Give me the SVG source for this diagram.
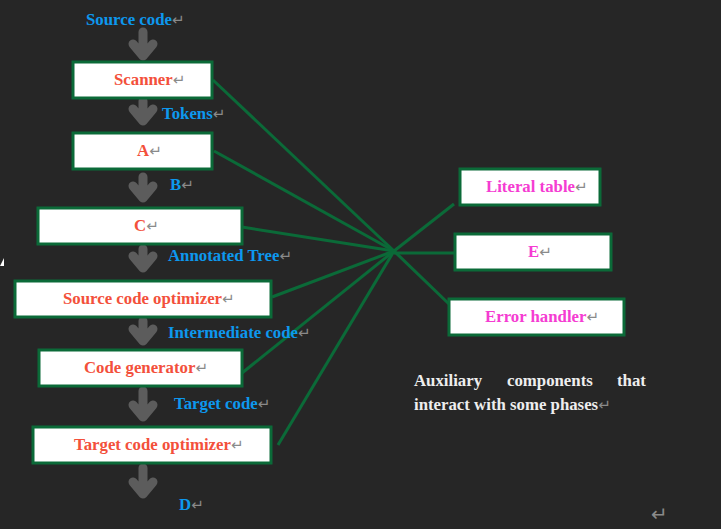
<svg xmlns="http://www.w3.org/2000/svg" width="721" height="529" viewBox="0 0 721 529">
<defs>
<style>
.box{fill:#ffffff;stroke:#0b6a38;stroke-width:3}
.t{font-family:"Liberation Serif","Times New Roman",serif;font-weight:bold;font-size:16.8px}
.red{fill:#f3503b}
.blue{fill:#0d98ee}
.mag{fill:#f53cd2}
.wht{fill:#eeeeee}
.pm{fill:#8a8a8a;font-weight:normal;font-family:"DejaVu Sans",sans-serif;font-size:15px}
.link{stroke:#0b6a38;stroke-width:3;fill:none}
.arr{stroke:#5c5c5c;stroke-width:9;fill:none;stroke-linecap:round;stroke-linejoin:round}
</style>
</defs>
<rect width="721" height="529" fill="#262626"/>
<polygon points="0,266 4,266 4,258" fill="#ffffff"/>

<g id="flow-arrows">
<path class="arr" d="M143,32 V56 M133,44 L143,56 L153,44"/>
<path class="arr" d="M143,101 V121 M133,109 L143,121 L153,109"/>
<path class="arr" d="M143,177 V198 M133,186 L143,198 L153,186"/>
<path class="arr" d="M143,249 V268 M133,256 L143,268 L153,256"/>
<path class="arr" d="M143,321 V341 M133,329 L143,341 L153,329"/>
<path class="arr" d="M143,391 V417 M133,405 L143,417 L153,405"/>
<path class="arr" d="M143,468 V494 M133,482 L143,494 L153,482"/>
</g>

<g id="connectors">
<line class="link" x1="213" y1="80" x2="394" y2="251"/>
<line class="link" x1="214" y1="151" x2="394" y2="251"/>
<line class="link" x1="242" y1="227" x2="394" y2="251"/>
<line class="link" x1="272" y1="297" x2="394" y2="251"/>
<line class="link" x1="242" y1="373" x2="394" y2="251"/>
<line class="link" x1="278" y1="445" x2="394" y2="251"/>
<line class="link" x1="394" y1="251" x2="454" y2="204"/>
<line class="link" x1="394" y1="253" x2="454" y2="253"/>
<line class="link" x1="394" y1="251" x2="449" y2="304"/>
</g>

<g id="label-source-code"><text class="t blue" x="86" y="25">Source code<tspan class="pm">↵</tspan></text></g>

<g id="node-scanner">
<rect class="box" x="73" y="62" width="139" height="36"/>
<text class="t red" x="114" y="85">Scanner<tspan class="pm">↵</tspan></text>
</g>
<g id="label-tokens"><text class="t blue" x="162" y="119">Tokens<tspan class="pm">↵</tspan></text></g>

<g id="node-a">
<rect class="box" x="73" y="133" width="139" height="36"/>
<text class="t red" x="137" y="156">A<tspan class="pm">↵</tspan></text>
</g>
<g id="label-b"><text class="t blue" x="170" y="190">B<tspan class="pm">↵</tspan></text></g>

<g id="node-c">
<rect class="box" x="38" y="208" width="204" height="36"/>
<text class="t red" x="134" y="231">C<tspan class="pm">↵</tspan></text>
</g>
<g id="label-annotated-tree"><text class="t blue" x="168" y="261">Annotated Tree<tspan class="pm">↵</tspan></text></g>

<g id="node-source-code-optimizer">
<rect class="box" x="15" y="281" width="256" height="36"/>
<text class="t red" x="63" y="304">Source code optimizer<tspan class="pm">↵</tspan></text>
</g>
<g id="label-intermediate-code"><text class="t blue" x="168" y="338">Intermediate code<tspan class="pm">↵</tspan></text></g>

<g id="node-code-generator">
<rect class="box" x="39" y="350" width="203" height="36"/>
<text class="t red" x="84" y="373">Code generator<tspan class="pm">↵</tspan></text>
</g>
<g id="label-target-code"><text class="t blue" x="174" y="409">Target code<tspan class="pm">↵</tspan></text></g>

<g id="node-target-code-optimizer">
<rect class="box" x="33" y="427" width="238" height="36"/>
<text class="t red" x="74" y="450">Target code optimizer<tspan class="pm">↵</tspan></text>
</g>
<g id="label-d"><text class="t blue" x="179" y="510">D<tspan class="pm">↵</tspan></text></g>

<g id="node-literal-table">
<rect class="box" x="460" y="169" width="140" height="36"/>
<text class="t mag" x="486" y="192">Literal table<tspan class="pm">↵</tspan></text>
</g>
<g id="node-e">
<rect class="box" x="455" y="234" width="156" height="36"/>
<text class="t mag" x="528" y="257">E<tspan class="pm">↵</tspan></text>
</g>
<g id="node-error-handler">
<rect class="box" x="449" y="299" width="175" height="36"/>
<text class="t mag" x="485" y="322">Error handler<tspan class="pm">↵</tspan></text>
</g>

<g id="note">
<text class="t wht" y="386"><tspan x="414">Auxiliary</tspan><tspan x="507">components</tspan><tspan x="617">that</tspan></text>
<text class="t wht" x="414" y="410">interact with some phases<tspan class="pm">↵</tspan></text>
</g>
<text class="pm" x="651" y="521" style="font-size:20px">↵</text>
</svg>
